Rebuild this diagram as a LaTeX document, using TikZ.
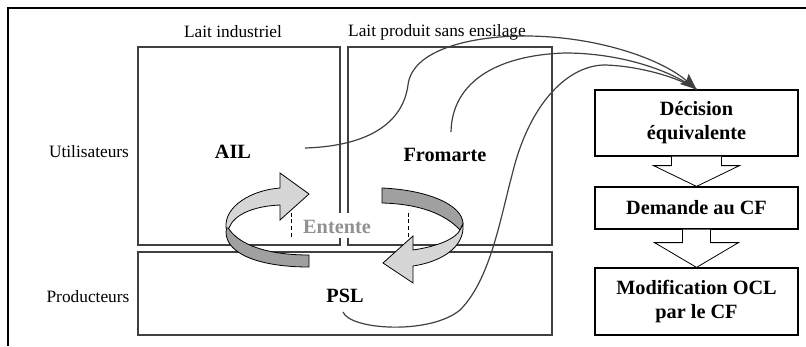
\documentclass[tikz,border=0pt]{standalone}
\usepackage{fontspec}
\setmainfont{Liberation Serif}
\usetikzlibrary{arrows.meta,calc}
\definecolor{linie}{RGB}{64,64,64}
\definecolor{hell}{RGB}{214,214,214}
\definecolor{dunkel}{RGB}{160,160,160}
\definecolor{grau}{RGB}{145,145,145}
\tikzset{
  feld/.style={draw=linie, line width=1pt, inner sep=0pt},
  titel/.style={font=\fontsize{13}{15}\selectfont},
  akteur/.style={font=\fontsize{15.2}{18}\selectfont\bfseries},
  stufe/.style={draw=black, line width=0.9pt, align=center, inner sep=2pt,
    minimum width=152.25pt, font=\fontsize{15.2}{18}\selectfont\bfseries},
  band/.style={draw=black, line width=0.6pt},
  kurve/.style={draw=linie, line width=0.9pt}
}
% breiter pfeil zwischen zwei stufen
\newcommand\blockpfeil[5]{%
  \draw[band, fill=white] ($(#1.south)+(-#3,0)$) -- ($(#1.south)+(-#3,#5)$)
    -- ($(#1.south)+(-#4,#5)$) -- (#2.north) -- ($(#1.south)+(#4,#5)$)
    -- ($(#1.south)+(#3,#5)$) -- ($(#1.south)+(#3,0)$);}
\begin{document}
\begin{tikzpicture}[x=0.75pt,y=-0.75pt]
		\useasboundingbox (0,0) rectangle (806,346);
		%rahmen
		\draw[line width=1pt] (806,8) -- (8,8) -- (8,346);
		%felder
		\node[feld, minimum width=151.5pt, minimum height=148.5pt] (ail) at (239,146) {};
		\node[feld, minimum width=153pt, minimum height=148.5pt] (fro) at (450,146) {};
		\node[feld, minimum width=310.5pt, minimum height=62.25pt] (psl) at (345,293.5) {};
		%titel
		\node[titel] (lind) at (233,32) {Lait industriel};
		\node[titel] (lsans) at (437,32) {Lait produit sans ensilage};
		\node[titel] (util) at (89,152) {Utilisateurs};
		\node[titel] (prod) at (88,297) {Producteurs};
		\node[akteur] (ailtxt) at (233,152) {AIL};
		\node[akteur] (frotxt) at (445,155) {Fromarte};
		\node[akteur] (psltxt) at (345,296) {PSL};
		%entente
		\node[fill=white, minimum width=87pt, minimum height=18.75pt, inner sep=0pt] (ent) at (350,225.5) {};
		\draw[densely dashed, line width=0.5pt] (ent.north west) -- (ent.south west) (ent.north east) -- (ent.south east);
		\node[akteur, text=grau] (enttxt) at (337,227) {Entente};
		%rechts
		\node[stufe, minimum height=49.5pt] (dec) at (696.5,123) {Décision\\équivalente};
		\node[stufe, minimum height=31.5pt] (dem) at (696.5,208) {Demande au CF};
		\node[stufe, minimum height=50.25pt] (mod) at (696.5,301.5) {Modification OCL\\par le CF};
		\blockpfeil{dec}{dem}{25}{43}{9}
		\blockpfeil{dem}{mod}{14}{42}{13}
		%kreis links
		\draw[band, fill=dunkel] (227,226) .. controls (238,246) and (270,255) .. (309,255) -- (309,267) .. controls (262,267) and (226,255) .. (226,232) -- cycle;
		\draw[band, fill=hell] (226,228) .. controls (224,206) and (252,190) .. (280,188) -- (280,173) -- (309,194) -- (280,220) -- (280,205) .. controls (255,206) and (234,214) .. (229,228) -- cycle;
		%kreis rechts
		\draw[band, fill=dunkel] (382,188) .. controls (428,190) and (463,205) .. (463,224) -- (460,230) .. controls (445,214) and (420,204) .. (382,203) -- cycle;
		\draw[band, fill=hell] (463,224) .. controls (465,248) and (440,262) .. (413,266) -- (413,283) -- (383,263) -- (413,236) -- (413,250) .. controls (440,246) and (456,238) .. (460,230) -- cycle;
		%kurven
		\coordinate (ailaus) at (305,148);
		\coordinate (froaus) at (451,132);
		\coordinate (pslaus) at (343,312);
		\draw[kurve] (froaus) .. controls (452,80) and (500,55) .. (565,53) .. controls (620,53) and (670,70) .. (dec.north);
		\draw[kurve] (pslaus) .. controls (350,330) and (430,335) .. (460,310) .. controls (490,280) and (500,220) .. (512,175) .. controls (530,100) and (570,65) .. (605,65) .. controls (640,66) and (680,78) .. (dec.north);
		\draw[kurve, -{Stealth[length=12pt, width=10pt, inset=2pt]}] (ailaus) .. controls (370,146) and (403,122) .. (408,85) .. controls (412,50) and (470,36) .. (525,36) .. controls (595,36) and (660,58) .. (dec.north);
	\end{tikzpicture}
\end{document}
